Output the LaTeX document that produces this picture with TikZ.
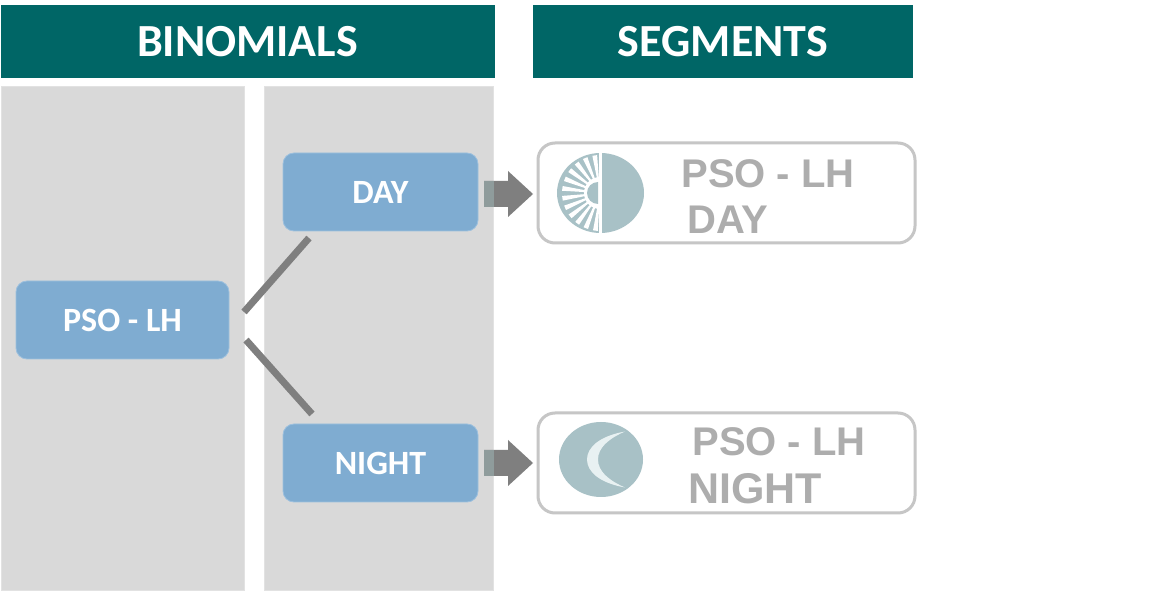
\documentclass[tikz,border=0pt]{standalone}
\usepackage{fontspec}
\setmainfont{Carlito}
\newfontfamily\arialfont{Liberation Sans}
\usetikzlibrary{calc}
\definecolor{teal1}{HTML}{006666}
\definecolor{panel}{HTML}{D9D9D9}
\definecolor{panelb}{HTML}{E2E2E2}
\definecolor{blue1}{HTML}{7FACD1}
\definecolor{blueb}{HTML}{9CC0DE}
\definecolor{gray1}{HTML}{7F7F7F}
\definecolor{grayl}{HTML}{8F9C9C}
\definecolor{icon}{HTML}{A8C1C6}
\definecolor{moonl}{HTML}{E8F1F2}
\definecolor{segline}{HTML}{C6C6C6}
\definecolor{segtext}{HTML}{ADADAD}
\tikzset{
 px/.style={x=1pt,y=-1pt},
 head/.style={fill=teal1,draw=none,inner sep=0,text=white,font=\bfseries\fontsize{46}{50}\selectfont},
 panelbox/.style={fill=panel,draw=panelb,line width=1.5pt,inner sep=0},
 blk/.style={fill=blue1,draw=blueb,line width=.8pt,rounded corners=11pt,inner sep=0,text=white,font=\bfseries\fontsize{34}{38}\selectfont},
 segbox/.style={draw=segline,line width=3pt,fill=white,rounded corners=17pt,inner sep=0},
 segtxt/.style={text=segtext,inner sep=0,font=\arialfont\bfseries\fontsize{40}{44}\selectfont},
 link/.style={draw=gray1,line width=7pt},
}
\begin{document}
\begin{tikzpicture}[px]
\useasboundingbox (0,0) rectangle (1152,593);
\fill[white] (0,0) rectangle (1152,593);
\node[head,minimum width=494pt,minimum height=73pt] (hb) at (247.5,41.5) {BINOMIALS};
\node[head,minimum width=380pt,minimum height=73pt] (hs) at (723,41.5) {SEGMENTS};
\node[panelbox,minimum width=243pt,minimum height=504pt] (p1) at (123,338.5) {};
\node[panelbox,minimum width=229pt,minimum height=504pt] (p2) at (379,338.5) {};
\node[blk,minimum width=213pt,minimum height=78pt] (pso) at (122.5,320) {PSO - LH};
\node[blk,minimum width=195pt,minimum height=78pt] (day) at (380.5,192) {DAY};
\node[blk,minimum width=195pt,minimum height=78pt] (night) at (380.5,463) {NIGHT};
\coordinate (a1) at (244,312);
\coordinate (a2) at (309,238);
\coordinate (b1) at (246,340);
\coordinate (b2) at (312,414);
\draw[link] (a1) -- (a2);
\draw[link] (b1) -- (b2);
\node[segbox,minimum width=377pt,minimum height=100pt] (s1) at (726.5,193) {};
\node[segbox,minimum width=377pt,minimum height=100pt] (s2) at (726.5,463) {};
% arrows
\foreach \yy in {194,463}{
 \fill[gray1] (484,\yy-13) -- (508,\yy-13) -- (508,\yy-23) -- (533,\yy) -- (508,\yy+23) -- (508,\yy+13) -- (484,\yy+13) -- cycle;
 \fill[grayl] (484,\yy-13) rectangle (494,\yy+13);
}
% sun
\coordinate (sc) at (600,193);
\fill[icon] (600.5,193) ellipse [x radius=43.5pt,y radius=40pt];
\fill[white] (600,177) arc[start angle=90,end angle=270,radius=16pt] -- cycle;
\foreach \a in {98,113,...,263}{
 \fill[white] (sc) -- ($(sc)+(\a-3.6:38pt)$) -- ($(sc)+(\a+3.6:38pt)$) -- cycle;
}
\draw[white,line width=2.6pt] (600.5,152) -- (600.5,234);
\fill[icon] (598,182) arc[start angle=90,end angle=270,radius=11pt] -- cycle;
% moon
\fill[icon] (601,459.5) ellipse [x radius=42pt,y radius=37.5pt];
\fill[moonl] (625,431.5) .. controls (600,436) and (587,447) .. (587,459.5) .. controls (587,472) and (600,483) .. (625,487.5) .. controls (608,480) and (598,471) .. (598,459.5) .. controls (598,448) and (608,439) .. (625,431.5) -- cycle;
\node[segtxt] (t1) at (768,174) {PSO - LH};
\node[segtxt] (t2) at (728,220) {DAY};
\node[segtxt] (t3) at (779,442) {PSO - LH};
\node[segtxt,font=\arialfont\bfseries\fontsize{43}{47}\selectfont] (t4) at (755,489) {NIGHT};
\end{tikzpicture}
\end{document}
